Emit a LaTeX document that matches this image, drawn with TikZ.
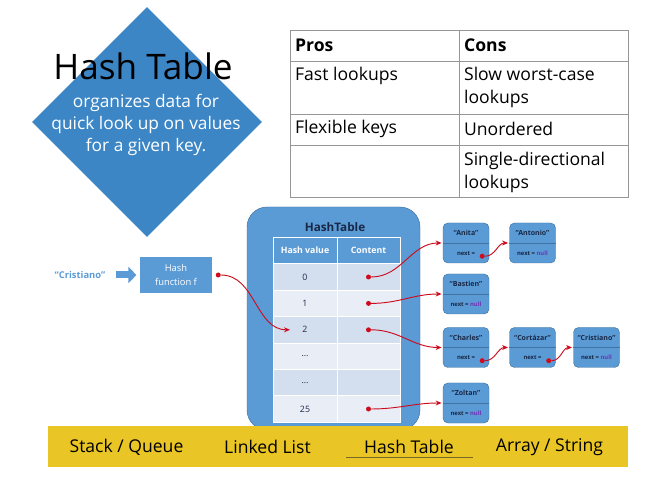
\documentclass[tikz,border=0pt]{standalone}
\usepackage{fontspec}
\setmainfont{Open Sans}
\usetikzlibrary{shapes, arrows.meta, positioning, calc}
\definecolor{HTblue}{RGB}{91, 155, 213}
\definecolor{HTdark}{RGB}{61, 134, 198}
\definecolor{HTedge}{RGB}{66, 114, 160}
\definecolor{HTrowA}{RGB}{211, 223, 238}
\definecolor{HTrowB}{RGB}{233, 238, 246}
\definecolor{HTred}{RGB}{205, 12, 30}
\definecolor{HTyellow}{RGB}{234, 197, 38}
\definecolor{HTline}{RGB}{120, 104, 40}
\definecolor{HTgray}{RGB}{150, 150, 150}
\definecolor{HTink}{RGB}{25, 40, 70}
\definecolor{HTpurple}{RGB}{110, 50, 180}
\tikzset{
    listbox/.style={
        rectangle, rounded corners=1.5mm, draw=HTedge, fill=HTblue,
        minimum width=1.38cm, minimum height=1.2cm, inner sep=0
    },
    cell/.style={draw=white, line width=0.6pt, minimum height=0.792cm, inner sep=0,
        font=\fontsize{7.5}{8}\selectfont, text=HTink},
    prostext/.style={anchor=west, align=left, font=\fontsize{15}{19.6}\selectfont},
    tab/.style={font=\fontsize{15}{17}\selectfont},
    ptr/.style={-{Stealth[length=1.8mm, width=1.5mm]}, thick, color=HTred},
    dot/.style={circle, fill=HTred, inner sep=0, minimum size=1.5mm},
}
% one entry of a chained list: name, position, key, next field
\newcommand{\listnode}[4]{
    \node[listbox] (#1) at (#2) {};
    \draw[HTedge] (#1.west) -- (#1.east);
    \node[font=\fontsize{6}{7}\selectfont\bfseries, text=HTink] (#1-key) at ($(#1.center)!0.5!(#1.north)$) {#3};
    \node[font=\fontsize{5}{6}\selectfont\bfseries, text=HTink] (#1-nx) at ($(#1.center)!0.5!(#1.south)$) {#4};
}

\begin{document}
\begin{tikzpicture}[x=0.3mm, y=0.3mm]
    \useasboundingbox (0, 0) rectangle (661, 482);

    % Title diamond
    \node[diamond, fill=HTdark, minimum width=6.9cm, minimum height=6.9cm, inner sep=0] (diam) at (147, 360) {};
    \node[font=\fontsize{30}{36}\selectfont] (title) at (143, 416) {Hash Table};
    \node[text=white, align=center, font=\fontsize{14.8}{18.8}\selectfont] (desc) at (146, 357)
        {organizes data for\\quick look up on values\\for a given key.};

    % Pros and cons
    \draw[HTgray] (290, 285) rectangle (628, 452);
    \draw[HTgray] (290, 421) -- (628, 421);
    \draw[HTgray] (290, 368) -- (628, 368);
    \draw[HTgray] (290, 337) -- (628, 337);
    \draw[HTgray] (459, 285) -- (459, 452);
    \node[prostext, font=\fontsize{15}{19.6}\selectfont\bfseries] (pros) at (291, 437) {Pros};
    \node[prostext, font=\fontsize{15}{19.6}\selectfont\bfseries] (cons) at (460, 437) {Cons};
    \node[prostext] (pro1) at (291, 406) {Fast lookups};
    \node[prostext] (con1) at (460, 394.5) {Slow worst-case\\lookups};
    \node[prostext] (pro2) at (291, 353) {Flexible keys};
    \node[prostext] (con2) at (460, 353) {Unordered};
    \node[prostext] (con3) at (460, 310) {Single-directional\\lookups};

    % Hash table
    \node[draw=HTedge, fill=HTblue, rounded corners=0.6cm, minimum width=5.19cm, minimum height=6.69cm] (htbox) at (333.5, 163.5) {};
    \node[font=\fontsize{10}{12}\selectfont\bfseries, text=HTink] (httitle) at (335, 255) {HashTable};
    \node[cell, minimum width=1.92cm, fill=HTblue, text=white, font=\fontsize{7.5}{8}\selectfont\bfseries] (hvhead) at (305, 231.5) {Hash value};
    \node[cell, minimum width=1.89cm, fill=HTblue, text=white, font=\fontsize{7.5}{8}\selectfont\bfseries] (cthead) at (368.5, 231.5) {Content};
    \foreach \v [count=\i from 0] in {0, 1, 2, \ldots, \ldots, 25} {
        \ifodd\i \def\rowcol{HTrowB}\else \def\rowcol{HTrowA}\fi
        \node[cell, minimum width=1.92cm, fill=\rowcol] (hv\i) at (305, 205-26.4*\i) {\v};
        \node[cell, minimum width=1.89cm, fill=\rowcol] (ct\i) at (368.5, 205-26.4*\i) {};
    }
    \foreach \r in {0, 1, 2, 5}
        \node[dot] (slot\r) at (ct\r.center) {};

    % Hash function
    \node[text=HTblue, font=\fontsize{8}{9}\selectfont\bfseries] (key) at (80, 207) {“Cristiano”};
    \node[fill=HTblue, text=white, align=center, minimum width=2.16cm, minimum height=1.08cm,
        font=\fontsize{8}{12}\selectfont] (hashfn) at (176, 207) {Hash\\function f};
    \draw[HTblue, line width=2.1mm, -{Triangle[length=2.4mm, width=4.8mm]}, shorten <=2mm, shorten >=1mm] (key) -- (hashfn);
    \node[dot] (hfdot) at ([xshift=1.8mm]hashfn.east) {};
    \coordinate (slot2in) at ([xshift=-4.5mm]hv2.center);
    \draw[ptr] (hfdot) to[out=0, in=180] (slot2in);

    % Chains
    \listnode{anita}{466, 239}{“Anita”}{next =\hspace{2.5mm}}
    \listnode{antonio}{532.5, 239}{“Antonio”}{next = \textcolor{HTpurple}{null}}
    \listnode{bastien}{466, 188}{“Bastien”}{next = \textcolor{HTpurple}{null}}
    \listnode{charles}{466, 134.5}{“Charles”}{next =\hspace{2.5mm}}
    \listnode{cortazar}{532.5, 134.5}{“Cortázar”}{next =\hspace{2.5mm}}
    \listnode{cristiano}{596.5, 134.5}{“Cristiano”}{next = \textcolor{HTpurple}{null}}
    \listnode{zoltan}{466, 79}{“Zoltan”}{next = \textcolor{HTpurple}{null}}
    \node[dot] (anitadot) at ([shift={(-7, 7)}]anita.south east) {};
    \node[dot] (charlesdot) at ([shift={(-7, 7)}]charles.south east) {};
    \node[dot] (cortazardot) at ([shift={(-7, 7)}]cortazar.south east) {};

    \draw[ptr] (slot0) to[out=0, in=180] ([xshift=-1pt]anita.west);
    \draw[ptr] (slot1) to[out=0, in=180] ([xshift=-1pt]bastien.west);
    \draw[ptr] (slot2) to[out=0, in=180] ([xshift=-1pt]charles.west);
    \draw[ptr] (slot5) to[out=0, in=180] ([xshift=-1pt]zoltan.west);
    \draw[ptr] (anitadot) to[out=0, in=180] ([xshift=-1pt]antonio.west);
    \draw[ptr] (charlesdot) to[out=0, in=180] ([xshift=-1pt]cortazar.west);
    \draw[ptr] (cortazardot) to[out=0, in=180] ([xshift=-1pt]cristiano.west);

    % Menu bar
    \node[fill=HTyellow, minimum width=17.4cm, minimum height=1.23cm, inner sep=0] (navbar) at (338, 36) {};
    \node[tab] (stack) at (126.5, 35) {Stack / Queue};
    \node[tab] (linked) at (267.5, 35) {Linked List};
    \node[tab] (hashtab) at (409, 35) {Hash Table};
    \node[tab] (array) at (549.5, 35) {Array / String};
    \draw[HTline, line width=0.8pt] (346, 25) -- (473, 25);
\end{tikzpicture}
\end{document}
